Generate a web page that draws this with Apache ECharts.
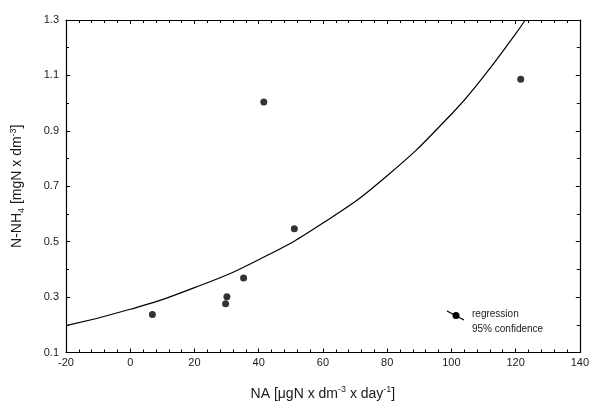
<!DOCTYPE html>
<html>
<head>
<meta charset="utf-8">
<script src="https://cdn.jsdelivr.net/npm/echarts@6/dist/echarts.min.js"></script>
<style>html,body{margin:0;padding:0;background:#fff}#c{width:592px;height:406px}</style>
</head>
<body>
<div id="c"></div>
<script>
// observed points (NA, N-NH4)
const pointsX = [6.9, 29.7, 30.1, 35.3, 41.6, 51.1, 121.6];
const pointsY = [0.237, 0.276, 0.301, 0.369, 1.004, 0.547, 1.086];
// regression curve
const curveX = [-20, 0, 20, 40, 60, 80, 100, 110, 120, 123];
const curveY = [0.197, 0.256, 0.334, 0.435, 0.567, 0.738, 0.960, 1.096, 1.250, 1.300];
const xTicks = {min: -20, max: 140, step: 20};
const yTicks = {min: 0.1, max: 1.3, step: 0.2};
const legendLabels = ['regression', '95% confidence'];

const FONT = '"Liberation Sans", Arial, sans-serif';
const TXT = '#1a1a1a';
const chart = echarts.init(document.getElementById('c'), null, {renderer: 'canvas'});

function xAxisCfg(pos, showLabel) {
  return {
    type: 'value', position: pos, min: xTicks.min, max: xTicks.max, interval: xTicks.step,
    axisLine: {show: true, onZero: false, lineStyle: {color: '#000', width: 1.2}},
    axisTick: {show: true, inside: true, length: 4, lineStyle: {color: '#000'}},
    minorTick: {show: true, splitNumber: 5, length: 3, lineStyle: {color: '#000'}},
    splitLine: {show: false},
    axisLabel: {show: showLabel, color: TXT, fontFamily: FONT, fontSize: 11, margin: 5}
  };
}
function yAxisCfg(pos, showLabel) {
  return {
    type: 'value', position: pos, min: yTicks.min, max: yTicks.max, interval: yTicks.step,
    axisLine: {show: true, onZero: false, lineStyle: {color: '#000', width: 1.2}},
    axisTick: {show: true, inside: true, length: 4, lineStyle: {color: '#000'}},
    minorTick: {show: true, splitNumber: 2, length: 3, lineStyle: {color: '#000'}},
    splitLine: {show: false},
    axisLabel: {show: showLabel, color: TXT, fontFamily: FONT, fontSize: 11, margin: 7,
      formatter: v => v.toFixed(1)}
  };
}

const xBottom = Object.assign(xAxisCfg('bottom', true), {
  name: 'NA [μgN x dm{sup|-3} x day{sup|-1}]',
  nameLocation: 'middle', nameGap: 33,
  nameTextStyle: {color: TXT, fontFamily: FONT, fontSize: 14,
    rich: {sup: {fontSize: 9, verticalAlign: 'top', padding: [0, 0, 8, 0], fontFamily: FONT, color: TXT}}}
});
const yLeft = Object.assign(yAxisCfg('left', true), {
  name: 'N-NH{sub|4} [mgN x dm{sup|-3}]',
  nameLocation: 'middle', nameGap: 40,
  nameTextStyle: {color: TXT, fontFamily: FONT, fontSize: 14,
    rich: {sup: {fontSize: 9, verticalAlign: 'top', padding: [0, 0, 8, 0], fontFamily: FONT, color: TXT},
           sub: {fontSize: 9, verticalAlign: 'bottom', padding: [6, 0, 0, 0], fontFamily: FONT, color: TXT}}}
});

chart.setOption({
  animation: false,
  backgroundColor: '#fff',
  grid: {left: 66, right: 8, top: 20, bottom: 53},
  xAxis: [xBottom, xAxisCfg('top', false)],
  yAxis: [yLeft, yAxisCfg('right', false)],
  series: [
    {type: 'line', name: legendLabels[0], xAxisIndex: 0, yAxisIndex: 0,
     data: curveX.map((x, i) => [x, curveY[i]]), smooth: true, showSymbol: false,
     lineStyle: {color: '#000', width: 1.2}, clip: true},
    {type: 'scatter', xAxisIndex: 0, yAxisIndex: 0,
     data: pointsX.map((x, i) => [x, pointsY[i]]), symbolSize: 7,
     itemStyle: {color: '#000'}}
  ],
  graphic: [
    {type: 'line', shape: {x1: 447, y1: 311, x2: 464, y2: 320}, style: {stroke: '#000', lineWidth: 1.2}},
    {type: 'circle', shape: {cx: 456, cy: 315.5, r: 3.5}, style: {fill: '#000'}},
    {type: 'text', left: 472, top: 309, style: {text: legendLabels[0], fill: TXT, font: '10px ' + FONT}},
    {type: 'text', left: 472, top: 324, style: {text: legendLabels[1], fill: TXT, font: '10px ' + FONT}}
  ]
});
</script>
</body>
</html>
